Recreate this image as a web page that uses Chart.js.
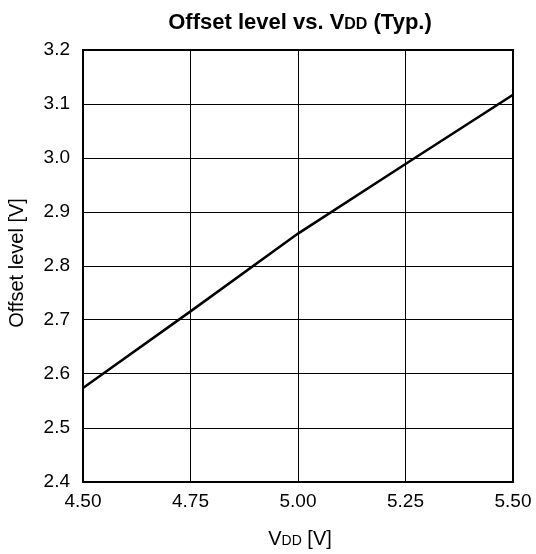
<!DOCTYPE html>
<html>
<head>
<meta charset="utf-8">
<script src="https://cdn.jsdelivr.net/npm/chart.js@4.4.0/dist/chart.umd.min.js"></script>
<style>
  html, body { margin: 0; padding: 0; background: #fff; }
  #wrap { width: 536px; height: 554px; position: relative; }
</style>
</head>
<body>
<div id="wrap"><canvas id="offsetChart"></canvas></div>
<script>
// values
var vdd = [4.50, 4.75, 5.00, 5.25, 5.50];
var offsetLevel = [2.574, 2.716, 2.860, 2.989, 3.117];
var xTicks = [4.50, 4.75, 5.00, 5.25, 5.50];
var yTicks = [2.4, 2.5, 2.6, 2.7, 2.8, 2.9, 3.0, 3.1, 3.2];

var FONT = '"Liberation Sans", Arial, sans-serif';

var points = [];
for (var i = 0; i < vdd.length; i++) {
    points.push({ x: vdd[i], y: offsetLevel[i] });
}

// draws the mixed-size title texts and the frame around the plot
function drawParts(ctx, parts, cx, y) {
    var total = 0;
    parts.forEach(function (p) { ctx.font = p.font; total += ctx.measureText(p.text).width; });
    var x = cx - total / 2;
    parts.forEach(function (p) {
        ctx.font = p.font;
        ctx.fillText(p.text, x, y);
        x += ctx.measureText(p.text).width;
    });
}

var decor = {
    id: 'decor',
    afterDraw: function (chart) {
        var ctx = chart.ctx;
        var a = chart.chartArea;
        ctx.save();
        ctx.strokeStyle = '#000';
        ctx.lineWidth = 2;
        ctx.strokeRect(a.left, a.top, a.right - a.left, a.bottom - a.top);

        ctx.fillStyle = '#000';
        ctx.textBaseline = 'alphabetic';
        ctx.textAlign = 'left';
        drawParts(ctx, [
            { text: 'Offset level vs. V', font: 'bold 22px ' + FONT },
            { text: 'DD', font: 'bold 16px ' + FONT },
            { text: ' (Typ.)', font: 'bold 22px ' + FONT }
        ], 300, 29);

        drawParts(ctx, [
            { text: 'V', font: '20px ' + FONT },
            { text: 'DD', font: '14px ' + FONT },
            { text: ' [V]', font: '20px ' + FONT }
        ], 300, 545);

        ctx.translate(17, 263);
        ctx.rotate(-Math.PI / 2);
        ctx.textAlign = 'center';
        ctx.textBaseline = 'middle';
        ctx.font = '20px ' + FONT;
        ctx.fillText('Offset level [V]', 0, 0);
        ctx.restore();
    }
};

var ctx = document.getElementById('offsetChart').getContext('2d');
var myChart = new Chart(ctx, {
    type: 'line',
    data: {
        datasets: [{
            label: 'Offset level',
            data: points,
            borderColor: '#000',
            borderWidth: 2.5,
            pointRadius: 0,
            tension: 0,
            fill: false
        }]
    },
    options: {
        responsive: true,
        maintainAspectRatio: false,
        animation: false,
        layout: { padding: { top: 50, right: 23, left: 0, bottom: 0 } },
        plugins: {
            legend: { display: false },
            title: { display: false },
            tooltip: { enabled: false }
        },
        scales: {
            x: {
                type: 'linear',
                min: 4.5,
                max: 5.5,
                afterBuildTicks: function (axis) {
                    axis.ticks = xTicks.map(function (v) { return { value: v }; });
                },
                afterFit: function (axis) {
                    axis.height = 72;
                    axis.paddingLeft = 0;
                    axis.paddingRight = 0;
                },
                grid: { color: '#000', lineWidth: 1, drawTicks: false },
                border: { display: false },
                ticks: {
                    color: '#000',
                    padding: 8,
                    maxRotation: 0,
                    font: { family: FONT, size: 19 },
                    callback: function (v) { return Number(v).toFixed(2); }
                }
            },
            y: {
                min: 2.4,
                max: 3.2,
                afterBuildTicks: function (axis) {
                    axis.ticks = yTicks.map(function (v) { return { value: v }; });
                },
                afterFit: function (axis) { axis.width = 83; },
                grid: { color: '#000', lineWidth: 1, drawTicks: false },
                border: { display: false },
                ticks: {
                    color: '#000',
                    padding: 13,
                    font: { family: FONT, size: 19 },
                    callback: function (v) { return Number(v).toFixed(1); }
                }
            }
        }
    },
    plugins: [decor]
});
</script>
</body>
</html>
